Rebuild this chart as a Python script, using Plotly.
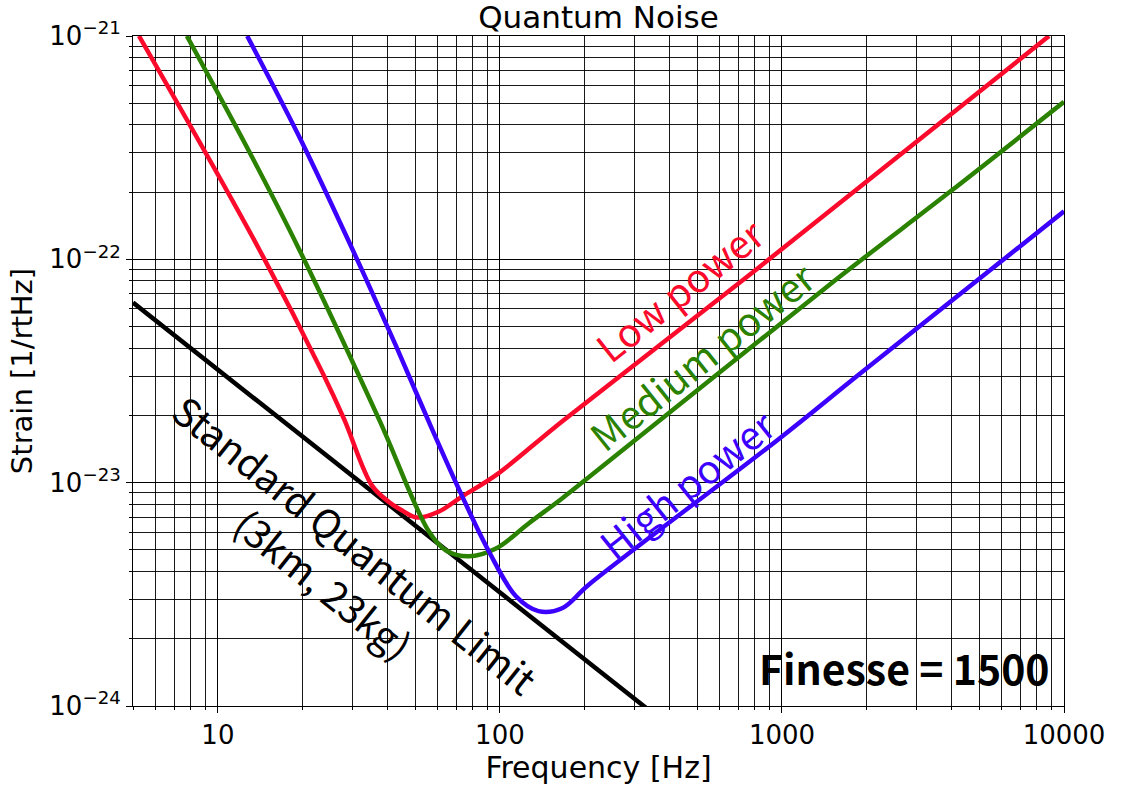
import math
import plotly.graph_objects as go

# Quantum-noise strain curves for three input powers (Hz, 1/rtHz)
low_freq = [5.25, 14.0, 23.6, 28.0, 35.2, 40.4, 45.0, 50.8, 60.8, 73.3, 96.8, 166, 828, 8850]
low_strain = [1.0e-21, 1.11e-22, 3.07e-23, 1.93e-23, 9.7e-24, 8.2e-24, 7.5e-24, 6.98e-24,
              7.43e-24, 8.66e-24, 1.08e-23, 1.88e-23, 9.2e-23, 1.0e-21]

med_freq = [7.76, 13.2, 19.4, 37.2, 56.0, 64.4, 77.6, 96.8, 127, 166, 207, 1552, 3908, 10000]
med_strain = [1.0e-21, 2.88e-22, 1.11e-22, 1.93e-23, 6.04e-24, 4.97e-24, 4.68e-24, 5.07e-24,
              6.6e-24, 8.5e-24, 1.06e-23, 8.1e-23, 1.99e-22, 5.07e-22]

high_freq = [12.7, 19.9, 29.6, 42.8, 56.0, 73.3, 91.4, 114, 137, 166, 207, 975, 1923, 10000]
high_strain = [1.0e-21, 3.33e-22, 1.15e-22, 4.1e-23, 1.87e-23, 8.75e-24, 4.92e-24, 3.1e-24,
               2.66e-24, 2.74e-24, 3.5e-24, 1.57e-23, 3.13e-23, 1.64e-22]

# Standard quantum limit (3 km arms, 23 kg mirrors)
sql_freq = [5, 330]
sql_strain = [6.4e-23, 9.8e-25]

x_ticks = [10, 100, 1000, 10000]
x_tick_text = ["10", "100", "1000", "10000"]
y_ticks = [1e-24, 1e-23, 1e-22, 1e-21]
y_tick_text = ["10<sup>\u221224</sup>", "10<sup>\u221223</sup>", "10<sup>\u221222</sup>", "10<sup>\u221221</sup>"]

RED = "#fb0a2c"
GREEN = "#2a8200"
BLUE = "#3c00ff"
AXIS_FONT = "DejaVu Sans"
LABEL_FONT = "Noto Sans CJK JP"

fig = go.Figure()
for fx, fy, col in [(sql_freq, sql_strain, "black"),
                    (low_freq, low_strain, RED),
                    (med_freq, med_strain, GREEN),
                    (high_freq, high_strain, BLUE)]:
    fig.add_trace(go.Scatter(x=fx, y=fy, mode="lines",
                             line=dict(color=col, width=4.5, shape="spline", smoothing=1.0),
                             showlegend=False, hoverinfo="skip"))

grid = dict(showgrid=True, gridcolor="rgba(0,0,0,0.9)", gridwidth=1)
fig.update_xaxes(
    type="log", range=[math.log10(5), 4],
    tickvals=x_ticks, ticktext=x_tick_text,
    ticks="outside", ticklen=6, tickwidth=1, tickcolor="black",
    showline=True, linecolor="black", linewidth=1, mirror=True, zeroline=False,
    minor=dict(dtick="D1", ticks="outside", ticklen=3, tickcolor="black", **grid),
    tickfont=dict(family=AXIS_FONT, size=26, color="black"),
    title=dict(text="Frequency [Hz]", font=dict(family=AXIS_FONT, size=30, color="black"), standoff=4),
    **grid,
)
fig.update_yaxes(
    type="log", range=[-24, -21],
    tickvals=y_ticks, ticktext=y_tick_text,
    ticks="outside", ticklen=6, tickwidth=1, tickcolor="black",
    showline=True, linecolor="black", linewidth=1, mirror=True, zeroline=False,
    minor=dict(dtick="D1", ticks="outside", ticklen=3, tickcolor="black", **grid),
    tickfont=dict(family=AXIS_FONT, size=26, color="black"),
    title=dict(text="Strain [1/rtHz]", font=dict(family=AXIS_FONT, size=29, color="black"), standoff=8),
    **grid,
)

slope_angle = 38.5
annotations = [
    dict(text="Low power", x=2.635, y=-22.135, color=RED, angle=-slope_angle),
    dict(text="Medium power", x=2.716, y=-22.43, color=GREEN, angle=-slope_angle),
    dict(text="High power", x=2.660, y=-23.0, color=BLUE, angle=-slope_angle),
    dict(text="Standard Quantum Limit<br>(3km, 23kg)", x=1.433, y=-23.36, color="black", angle=slope_angle),
]
for a in annotations:
    fig.add_annotation(text=a["text"], x=a["x"], y=a["y"], xref="x", yref="y",
                       showarrow=False, textangle=a["angle"],
                       font=dict(family=LABEL_FONT, size=39, color=a["color"]))
fig.add_annotation(text="<b>Finesse = 1500</b>", x=3.433, y=-23.826, xref="x", yref="y",
                   showarrow=False,
                   font=dict(family=LABEL_FONT, size=41, color="black"))

fig.update_layout(
    width=1122, height=787,
    margin=dict(l=133, r=58, t=36, b=79),
    paper_bgcolor="white", plot_bgcolor="white",
    title=dict(text="Quantum Noise", x=0.5, xref="paper", xanchor="center",
               y=1 - 17 / 787, yanchor="middle", yref="container",
               font=dict(family=AXIS_FONT, size=31, color="black")),
)

fig.write_html("out.html")
